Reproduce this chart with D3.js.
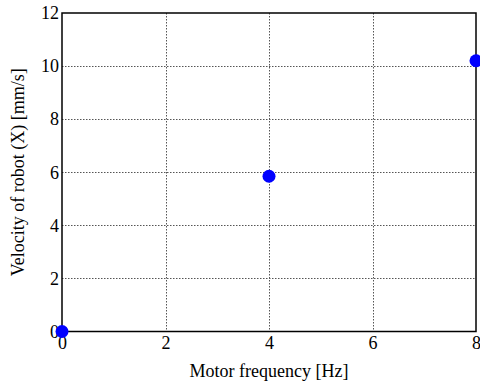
<!DOCTYPE html>
<html><head><meta charset="utf-8">
<script src="https://cdn.jsdelivr.net/npm/d3@7"></script>
<style>
@font-face{font-family:"RefSerif";src:local("Liberation Serif"),local("LiberationSerif"),local("Times New Roman");}
body{margin:0;background:#fff}svg{display:block}
</style>
</head><body>
<script>
const freq = [0, 4, 8];
const velocity = [0, 5.85, 10.2];
const xTicks = [0, 2, 4, 6, 8];
const yTicks = [0, 2, 4, 6, 8, 10, 12];

const FONT = '"Liberation Serif", RefSerif, "Times New Roman", serif';
const W = 480, H = 385;
const m = {left: 62, right: 4, top: 13, bottom: 53.5};
const svg = d3.select("body").append("svg").attr("width", W).attr("height", H);
const x = d3.scaleLinear().domain([0, 8]).range([m.left, W - m.right]);
const y = d3.scaleLinear().domain([0, 12]).range([H - m.bottom, m.top]);

const grid = svg.append("g").attr("stroke", "#555").attr("stroke-width", 1).attr("stroke-dasharray", "1.5,1.5");
grid.selectAll(".gx").data(xTicks.slice(1, -1)).join("line")
  .attr("x1", d => Math.round(x(d)) + 0.5).attr("x2", d => Math.round(x(d)) + 0.5)
  .attr("y1", y(12)).attr("y2", y(0));
grid.selectAll(".gy").data(yTicks.slice(1, -1)).join("line")
  .attr("y1", d => Math.round(y(d)) + 0.5).attr("y2", d => Math.round(y(d)) + 0.5)
  .attr("x1", x(0)).attr("x2", x(8));

svg.append("rect").attr("x", x(0)).attr("y", y(12)).attr("width", x(8) - x(0)).attr("height", y(0) - y(12))
  .attr("fill", "none").attr("stroke", "#000").attr("stroke-width", 1.5);

const xAxis = svg.append("g").attr("transform", `translate(0,${y(0)})`)
  .call(d3.axisBottom(x).tickValues(xTicks).tickSize(0).tickPadding(5).tickFormat(d3.format("d")))
  .attr("font-family", null).attr("font-size", 18);
xAxis.select(".domain").remove();
xAxis.selectAll("text").style("font-family", FONT, "important").attr("fill", "#000");

const yAxis = svg.append("g").attr("transform", `translate(${x(0)},0)`)
  .call(d3.axisLeft(y).tickValues(yTicks).tickSize(0).tickPadding(3).tickFormat(d3.format("d")))
  .attr("font-family", null).attr("font-size", 18);
yAxis.select(".domain").remove();
yAxis.selectAll("text").style("font-family", FONT, "important").attr("fill", "#000");

svg.append("text").attr("x", (x(0) + x(8)) / 2).attr("y", 377).attr("text-anchor", "middle")
  .style("font-family", FONT, "important").attr("font-size", 18).text("Motor frequency [Hz]");
svg.append("text").attr("transform", `translate(24,${(y(0) + y(12)) / 2}) rotate(-90)`).attr("text-anchor", "middle")
  .style("font-family", FONT, "important").attr("font-size", 18).text("Velocity of robot (X) [mm/s]");

svg.append("g").selectAll("circle").data(freq).join("circle")
  .attr("cx", (d, i) => x(d)).attr("cy", (d, i) => y(velocity[i])).attr("r", 6.5).attr("fill", "#0000ff");
</script>
</body></html>
